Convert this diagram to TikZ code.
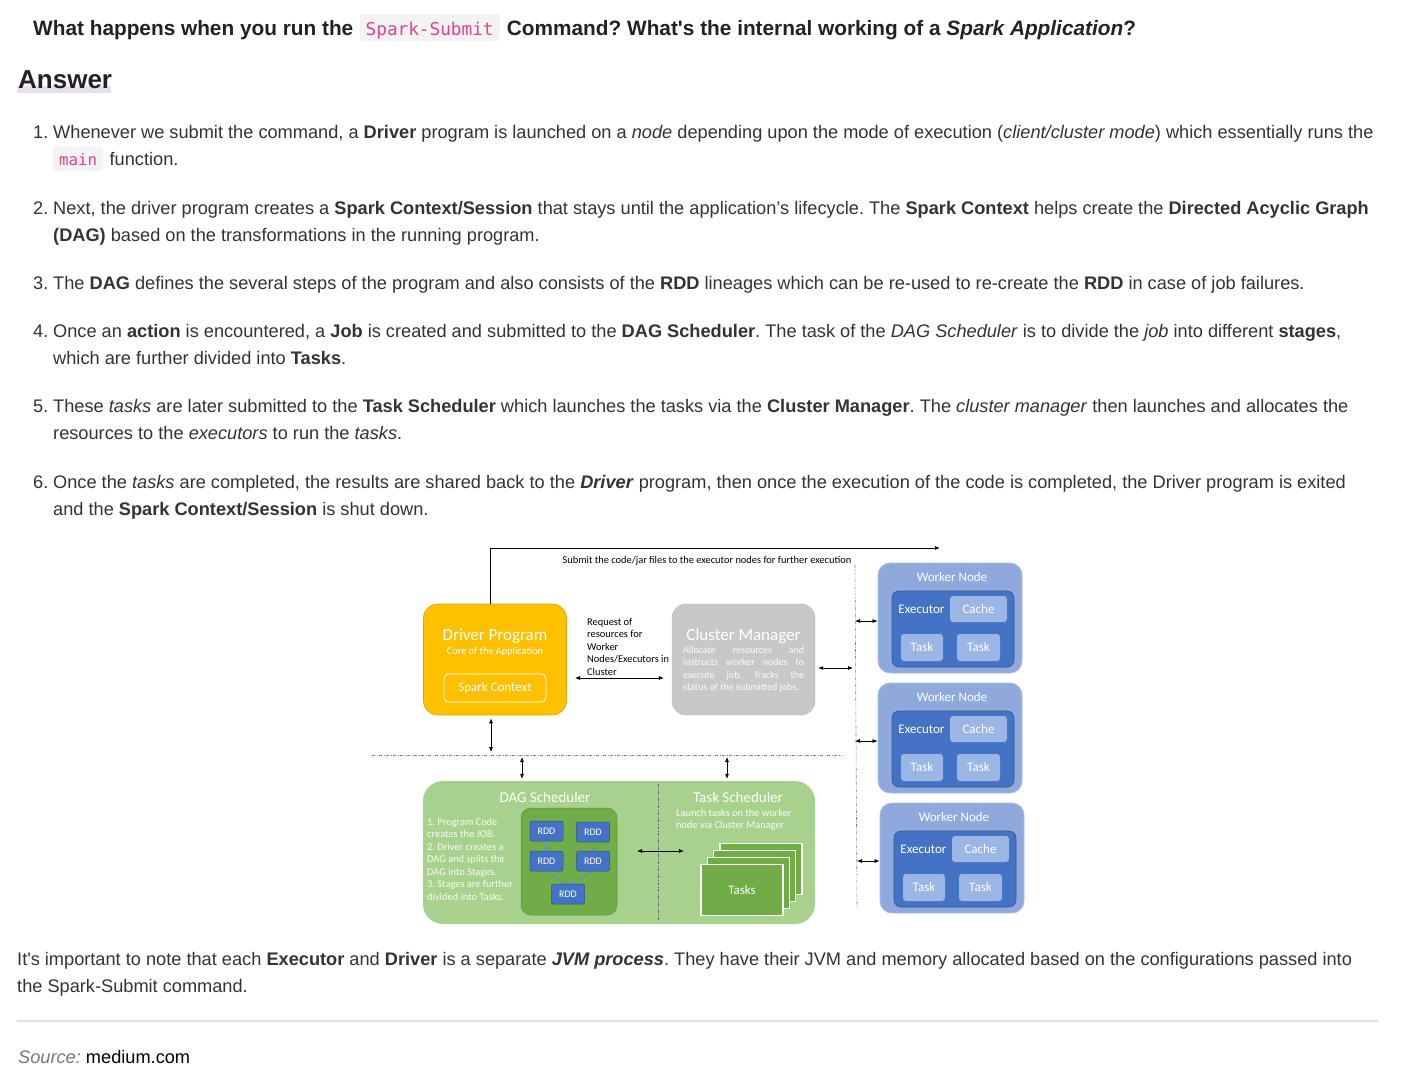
\documentclass[tikz,border=0pt]{standalone}
\usepackage{fontspec}
\setmainfont{Liberation Sans}
\setmonofont{DejaVu Sans Mono}
\newfontfamily\diagfont{Carlito}
\usepackage{xcolor}
\usetikzlibrary{arrows.meta,positioning,calc}
\frenchspacing

\definecolor{bodytext}{HTML}{333333}
\definecolor{headtext}{HTML}{222222}
\definecolor{codepink}{HTML}{E83E8C}
\definecolor{codebg}{HTML}{F2F3F3}
\definecolor{answerbar}{HTML}{E9DEEE}
\definecolor{hrgray}{HTML}{E2E2E2}
\definecolor{srcgray}{HTML}{777777}
\definecolor{drvorange}{HTML}{FFC000}
\definecolor{drvedge}{HTML}{E0A500}
\definecolor{cmgray}{HTML}{C8C8C8}
\definecolor{wnlight}{HTML}{8FA9DC}
\definecolor{wnedge}{HTML}{A9BCE6}
\definecolor{wndark}{HTML}{4472C4}
\definecolor{wnbox}{HTML}{9BB5E4}
\definecolor{grnlight}{HTML}{A9D18E}
\definecolor{grndark}{HTML}{70AD47}
\definecolor{rddarrow}{HTML}{5A86D2}

\tikzset{
  line/.style={anchor=base west, inner sep=0pt, text=bodytext, font=\fontsize{18.2}{27}\selectfont},
  codebox/.style={anchor=base west, fill=codebg, rounded corners=3pt, inner xsep=6pt, inner ysep=0pt, text=codepink},
  dbl/.style={<->, line width=0.7pt},
  dashline/.style={draw=gray, line width=0.6pt, dash pattern=on 3pt off 1.5pt on 1pt off 1.5pt},
  wtxt/.style={text=white, inner sep=0pt, font=\diagfont\fontsize{13}{15}\selectfont},
  smalltxt/.style={inner sep=0pt, font=\diagfont\fontsize{10.4}{12.5}\selectfont},
  drvbox/.style={fill=drvorange, draw=drvedge, line width=0.6pt, rounded corners=14pt, minimum width=143pt, minimum height=111pt},
  cmbox/.style={fill=cmgray, draw=cmgray!90!black, line width=0.4pt, rounded corners=14pt, minimum width=143pt, minimum height=111pt},
  wnouter/.style={fill=wnlight, draw=wnedge, line width=0.8pt, rounded corners=12pt, minimum width=144pt, minimum height=110pt},
  wninner/.style={fill=wndark, draw=wndark!75!black, line width=0.6pt, rounded corners=7pt, minimum width=122pt, minimum height=76pt},
  wnpart/.style={fill=wnbox, rounded corners=3pt, text=white, inner sep=0pt, font=\diagfont\fontsize{13}{15}\selectfont},
  rddbox/.style={fill=wndark, draw=wndark!70!black, line width=0.5pt, rounded corners=2pt, minimum width=33pt, minimum height=20pt, inner sep=0pt, text=white, font=\diagfont\fontsize{10}{12}\selectfont},
  taskcard/.style={fill=grndark, draw=white, line width=1.2pt, minimum width=82pt, minimum height=51pt, inner sep=0pt, text=white, font=\diagfont\fontsize{13}{15}\selectfont}
}

\begin{document}
\begin{tikzpicture}[x=1pt, y=-1pt, >={Latex[length=5pt,width=4pt]}]
\useasboundingbox (0,0) rectangle (1406,1092);
\fill[white] (0,0) rectangle (1406,1092);

% title and heading
\node[line, text=headtext, font=\bfseries\fontsize{20.8}{24}\selectfont] (t1) at (33,35) {What happens when you run the};
\node[codebox, text height=21pt, text depth=6pt, font=\ttfamily\fontsize{17.7}{20}\selectfont] (code1) at ($(t1.base east)+(6,0)$) {Spark-Submit};
\node[line, text=headtext, font=\bfseries\fontsize{20.8}{24}\selectfont] (t2) at ($(code1.base east)+(7,0)$) {Command? What\textquotesingle s the internal working of a \textit{Spark Application}?};
\fill[answerbar] (17,86) rectangle (111,93);
\node[line, text=headtext, font=\bfseries\fontsize{26}{30}\selectfont] (answer) at (18,88) {Answer};

% list items
\node[line] (n1) at (33,138) {1.};
\node[line] (l1a) at (53,138) {Whenever we submit the command, a \textbf{Driver} program is launched on a \textit{node} depending upon the mode of execution (\textit{client/cluster mode}) which essentially runs the};
\node[codebox, text height=18pt, text depth=6pt, font=\ttfamily\fontsize{15.8}{18}\selectfont] (code2) at (53,165) {main};
\node[line] (l1b) at ($(code2.base east)+(6,0)$) {function.};

\node[line] (n2) at (33,214) {2.};
\node[line] (l2a) at (53,214) {Next, the driver program creates a \textbf{Spark Context/Session} that stays until the application’s lifecycle. The \textbf{Spark Context} helps create the \textbf{Directed Acyclic Graph}};
\node[line] (l2b) at (53,241) {\textbf{(DAG)} based on the transformations in the running program.};

\node[line] (n3) at (33,289) {3.};
\node[line] (l3a) at (53,289) {The \textbf{DAG} defines the several steps of the program and also consists of the \textbf{RDD} lineages which can be re-used to re-create the \textbf{RDD} in case of job failures.};

\node[line] (n4) at (33,337) {4.};
\node[line] (l4a) at (53,337) {Once an \textbf{action} is encountered, a \textbf{Job} is created and submitted to the \textbf{DAG Scheduler}. The task of the \textit{DAG Scheduler} is to divide the \textit{job} into different \textbf{stages},};
\node[line] (l4b) at (53,364) {which are further divided into \textbf{Tasks}.};

\node[line] (n5) at (33,412) {5.};
\node[line] (l5a) at (53,412) {These \textit{tasks} are later submitted to the \textbf{Task Scheduler} which launches the tasks via the \textbf{Cluster Manager}. The \textit{cluster manager} then launches and allocates the};
\node[line] (l5b) at (53,439) {resources to the \textit{executors} to run the \textit{tasks}.};

\node[line] (n6) at (33,488) {6.};
\node[line] (l6a) at (53,488) {Once the \textit{tasks} are completed, the results are shared back to the \textbf{\textit{Driver}} program, then once the execution of the code is completed, the Driver program is exited};
\node[line] (l6b) at (53,515) {and the \textbf{Spark Context/Session} is shut down.};

% diagram: driver and cluster manager
\node[drvbox] (driver) at (495,659.5) {};
\node[wtxt, font=\diagfont\fontsize{17}{19}\selectfont] (drvtitle) at (495,636) {Driver Program};
\node[wtxt, font=\diagfont\fontsize{10.3}{12}\selectfont] (drvsub) at (495,652) {Core of the Application};
\node[draw=white, line width=0.8pt, rounded corners=5pt, minimum width=102pt, minimum height=28pt, text=white, font=\diagfont\fontsize{13}{15}\selectfont] (sparkctx) at (495,688) {Spark Context};

\node[cmbox] (cm) at (743.5,659.5) {};
\node[wtxt, font=\diagfont\fontsize{17}{19}\selectfont] (cmtitle) at (743.5,636) {Cluster Manager};
\node[smalltxt, anchor=north west, align=left, text=white!92!cmgray, font=\diagfont\fontsize{10}{12.5}\selectfont] (cmdesc) at (683,646)
  {\makebox[121pt][s]{Allocate resources and}\\ \makebox[121pt][s]{instructs worker nodes to}\\ \makebox[121pt][s]{execute job. Tracks the}\\ status of the submitted jobs.};

\coordinate (subend) at (940,548);
\draw[->, line width=0.8pt] ([xshift=-5pt]driver.north) |- (subend);
\node[smalltxt] (sublbl) at (707,561) {Submit the code/jar files to the executor nodes for further execution};

\node[smalltxt, anchor=north west, align=left] (reqlbl) at (587,618) {Request of\\resources for\\Worker\\Nodes/Executors in\\Cluster};
\coordinate (reqa) at (575,678);
\draw[dbl] (reqa) -- (reqa -| cm.west) [shorten >=8pt];

% dashed bus lines
\coordinate (bustop) at (855,565);
\coordinate (busbot) at (857,907);
\draw[dashline] (bustop) -- (busbot);
\coordinate (hleft) at (372,755);
\coordinate (hright) at (842,755);
\draw[dashline] (hleft) -- (hright);
\coordinate (cmbus) at (853,668);
\draw[dbl] (cmbus -| cm.east) [shorten <=3pt] -- (cmbus);

% worker nodes
\foreach \i/\dx/\dy in {1/0/0,2/0/120,3/2/240} {
  \begin{scope}[shift={(\dx,\dy)}]
    \node[wnouter] (wn\i) at (950,618) {};
    \node[wtxt] (wnlbl\i) at (952,577) {Worker Node};
    \node[wninner] (exec\i) at (953,629) {};
    \node[wtxt] (execlbl\i) at (921.5,609) {Executor};
    \node[wnpart, minimum width=57pt, minimum height=26pt] (cache\i) at (978.5,609) {Cache};
    \node[wnpart, minimum width=42pt, minimum height=27pt] (taska\i) at (922,647.5) {Task};
    \node[wnpart, minimum width=43pt, minimum height=27pt] (taskb\i) at (978.5,647.5) {Task};
    \coordinate (bus\i) at (855,621);
    \draw[dbl] (bus\i) -- (bus\i -| wn\i.west);
  \end{scope}
}

% DAG and task scheduler
\node[fill=grnlight, rounded corners=20pt, minimum width=392pt, minimum height=143pt] (sched) at (619,852.5) {};
\coordinate (divtop) at (658,784);
\coordinate (divbot) at (658,921);
\draw[dashline, draw=gray!80!black] (divtop) -- (divbot);
\node[wtxt, font=\diagfont\fontsize{15}{17}\selectfont] (dagtitle) at (545,797) {DAG Scheduler};
\node[wtxt, font=\diagfont\fontsize{15}{17}\selectfont] (tstitle) at (738,797) {Task Scheduler};
\node[smalltxt, anchor=north west, align=left, text=white!92!grnlight] (dagnote) at (427,818)
  {1. Program Code\\creates the JOB.\\2. Driver creates a\\DAG and splits the\\DAG into Stages.\\3. Stages are further\\divided into Tasks.};
\node[smalltxt, anchor=north west, align=left, text=white!92!grnlight] (tsnote) at (676,809)
  {Launch tasks on the worker\\node via Cluster Manager};
\node[fill=grndark, draw=grndark!85!black, line width=0.5pt, rounded corners=10pt, minimum width=96pt, minimum height=107pt] (rddgroup) at (569,861.5) {};
\node[rddbox] (rdd1) at (546.5,831) {RDD};
\node[rddbox] (rdd2) at (593,832) {RDD};
\node[rddbox] (rdd3) at (546.5,861) {RDD};
\node[rddbox] (rdd4) at (593,861) {RDD};
\node[rddbox] (rdd5) at (568,894) {RDD};
\draw[->, draw=rddarrow, line width=0.6pt, >={Latex[length=3pt,width=3pt]}] (rdd1) -- (rdd3);
\draw[->, draw=rddarrow, line width=0.6pt, >={Latex[length=3pt,width=3pt]}] (rdd2) -- (rdd4);
\draw[->, draw=rddarrow, line width=0.6pt, >={Latex[length=3pt,width=3pt]}] (rdd3.south) -- ([xshift=-3pt]rdd5.north);
\draw[->, draw=rddarrow, line width=0.6pt, >={Latex[length=3pt,width=3pt]}] (rdd4.south) -- ([xshift=3pt]rdd5.north);
\foreach \k in {3,2,1} {
  \node[taskcard] (card\k) at (742+6.3*\k,890-7*\k) {};
}
\node[taskcard] (card0) at (742,890) {Tasks};
\coordinate (dta) at (637,851);
\coordinate (dtb) at (684,851);
\draw[dbl] (dta) -- (dtb);

% vertical links to the dashed line
\draw[dbl] ([xshift=-4pt]driver.south) [shorten <=3pt] -- ([xshift=-4pt]driver.south |- hleft) [shorten >=3pt];
\coordinate (daglink) at (522,757);
\draw[dbl] (daglink) -- (daglink |- sched.north) [shorten >=2pt];
\coordinate (tslink) at (727,757);
\draw[dbl] (tslink) -- (tslink |- sched.north) [shorten >=2pt];

% closing text
\node[line] (c1) at (17,965) {It\textquotesingle s important to note that each \textbf{Executor} and \textbf{Driver} is a separate \textbf{\textit{JVM process}}. They have their JVM and memory allocated based on the configurations passed into};
\node[line] (c2) at (17,992) {the Spark-Submit command.};
\coordinate (hrl) at (17,1021);
\coordinate (hrr) at (1378,1021);
\draw[draw=hrgray, line width=1.5pt] (hrl) -- (hrr);
\node[line, text=black] (src) at (18,1063) {\textcolor{srcgray}{\textit{Source:}} medium.com};
\end{tikzpicture}
\end{document}
